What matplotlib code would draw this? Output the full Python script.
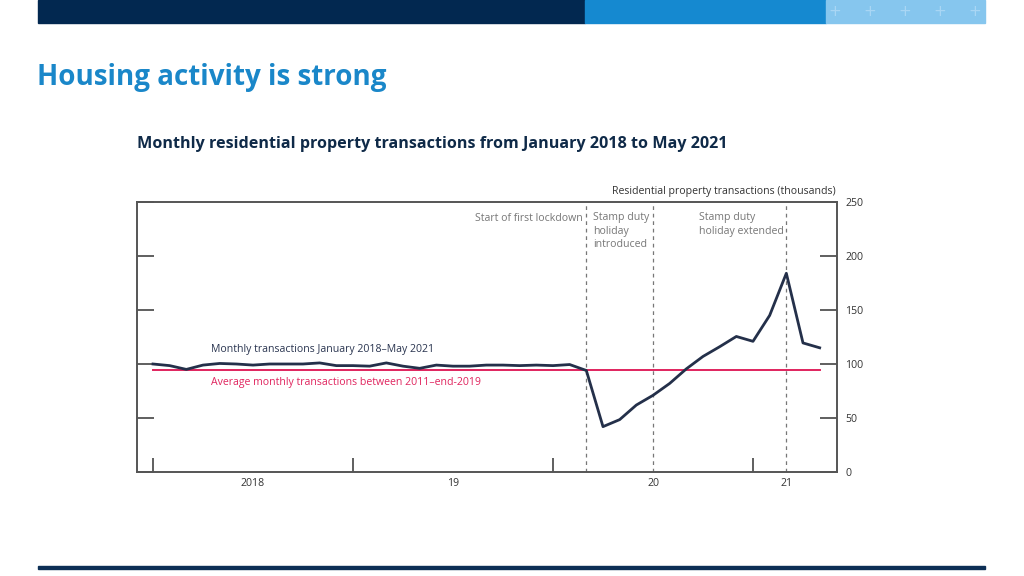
import numpy as np
import pandas as pd
import matplotlib
matplotlib.use("Agg")
import matplotlib.pyplot as plt
from matplotlib.patches import Rectangle

plt.rcParams['font.family'] = ['Open Sans', 'DejaVu Sans']

# monthly residential property transactions (thousands), Jan 2018 - May 2021
months = pd.date_range('2018-01-01', '2021-05-01', freq='MS')
transactions = [100, 98.5, 95, 99, 100.5, 100, 99, 100, 100, 100, 101, 98.5,
                98.5, 98, 101, 98, 96, 99, 98, 98, 99, 99, 98.5, 99,
                98.5, 99.5, 94, 42, 48.5, 62, 71, 82, 95.5, 107, 116, 125.5,
                121, 145, 184, 119.5, 115]
average_2011_2019 = 94.5

event_months = ['2020-03', '2020-07', '2021-03']
event_labels = ['Start of first lockdown', 'Stamp duty\nholiday\nintroduced',
                'Stamp duty\nholiday extended']
year_labels = ['2018', '19', '20', '21']
year_label_pos = [6, 18, 30, 38]
year_ticks = [0, 12, 24, 36]
y_ticks = [0, 50, 100, 150, 200, 250]

W, H = 1024, 576
fig = plt.figure(figsize=(W / 100, H / 100), dpi=100)


def fx(px):
    return px / W


def fy(py):
    return 1 - py / H


# header bars
fig.patches.append(Rectangle((fx(38), fy(23)), fx(585 - 38), 23 / H,
                             transform=fig.transFigure, color='#022850', zorder=0))
fig.patches.append(Rectangle((fx(585), fy(23)), fx(826 - 585), 23 / H,
                             transform=fig.transFigure, color='#1589d0', zorder=0))
fig.patches.append(Rectangle((fx(826), fy(23)), fx(985 - 826), 23 / H,
                             transform=fig.transFigure, color='#86c6ee', zorder=0))
for cx in [835, 870, 905, 940, 975]:
    fig.text(fx(cx), fy(11), '+', color='#a9d6f4', fontsize=11, ha='center', va='center',
             family='DejaVu Sans')

# footer line
fig.patches.append(Rectangle((fx(38), fy(569)), fx(985 - 38), 3 / H,
                             transform=fig.transFigure, color='#0d2f55', zorder=0))

fig.text(fx(37), fy(78), 'Housing activity is strong', color='#1a87c9', fontsize=20,
         fontweight='bold', va='center', ha='left')
fig.text(fx(137), fy(144), 'Monthly residential property transactions from January 2018 to May 2021',
         color='#0f2a48', fontsize=11.6, fontweight='bold', va='center', ha='left')

ax = fig.add_axes([fx(137), fy(472), fx(837 - 137), (472 - 202) / H])
x = np.arange(len(months))

ax.axhline(average_2011_2019, xmin=(153 - 137) / 700, xmax=(820 - 137) / 700,
           color='#e0245e', lw=1.4, zorder=2)
ax.plot(x, transactions, color='#24304a', lw=2, zorder=3)

for m in event_months:
    pos = list(months.strftime('%Y-%m')).index(m)
    ax.axvline(pos, color='#777777', lw=0.9, ls=(0, (3, 3)), zorder=1)

fs = 7.6
ax.text(25.8, 235, event_labels[0], ha='right', va='center', fontsize=fs, color='#777777')
ax.text(26.4, 241, event_labels[1], ha='left', va='top', fontsize=fs, color='#777777',
        linespacing=1.35)
ax.text(32.75, 241, event_labels[2], ha='left', va='top', fontsize=fs, color='#777777',
        linespacing=1.35)

ax.text(3.5, 113, 'Monthly transactions January 2018\u2013May 2021', fontsize=fs,
        color='#2a3550', va='center')
ax.text(3.5, 82.5, 'Average monthly transactions between 2011\u2013end-2019', fontsize=fs,
        color='#e0245e', va='center')

ax.set_xlim(-0.96, 41.04)
ax.set_ylim(0, 250)

ax.yaxis.tick_right()
ax.set_yticks(y_ticks)
ax.set_yticklabels([str(v) for v in y_ticks])
ax.tick_params(axis='y', which='both', direction='in', length=12, width=1.2, color='#444444',
               labelsize=fs, labelcolor='#333333', pad=6, left=True, right=True)

ax.set_xticks(year_ticks)
ax.set_xticklabels([''] * len(year_ticks))
ax.set_xticks(year_label_pos, minor=True)
ax.set_xticklabels(year_labels, minor=True)
ax.tick_params(axis='x', which='major', direction='in', length=10, width=1.2, color='#444444')
ax.tick_params(axis='x', which='minor', length=0, labelsize=fs, labelcolor='#333333', pad=4)

for s in ax.spines.values():
    s.set_color('#555555')
    s.set_linewidth(1.4)

ax.text(0.9986, 1.04, 'Residential property transactions (thousands)', transform=ax.transAxes,
        ha='right', va='center', fontsize=fs, color='#333333')

fig.savefig('out.png', dpi=100)
